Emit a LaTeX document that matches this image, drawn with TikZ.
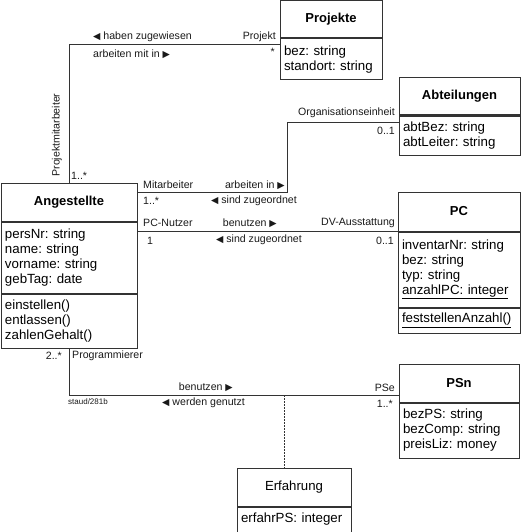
\documentclass[tikz,border=0pt]{standalone}
\usepackage{fontspec}
\setmainfont{Liberation Sans}
\newfontfamily\symfont{DejaVu Sans}
\usetikzlibrary{positioning}
\frenchspacing
\definecolor{linie}{gray}{0.2}
\newcommand{\rpfeil}{{\symfont\fontsize{9.5}{9.5}\selectfont ▶}}
\newcommand{\lpfeil}{{\symfont\fontsize{9.5}{9.5}\selectfont ◀}}
\tikzset{
  kopf/.style={draw=linie, line width=1pt, font=\bfseries\fontsize{13}{15}\selectfont, inner sep=0pt},
  attr/.style={draw=linie, line width=1pt, font=\fontsize{13.3}{15}\selectfont, align=left, inner sep=4pt, anchor=north west},
  lbl/.style={font=\fontsize{10.6}{12}\selectfont, inner sep=0pt, text=black!90},
  verb/.style={draw=linie, line width=1pt}
}
\begin{document}
\begin{tikzpicture}[x=1pt, y=-1pt]
  \useasboundingbox (0,0) rectangle (521,532);
  % Klassen
  \node[kopf, minimum width=102, minimum height=37] (projH) at (331,19.5) {Projekte};
  \node[attr, text width=94, minimum height=41] (projA) at (projH.south west) {bez: string\\standort: string};
  \node[kopf, minimum width=121, minimum height=37] (abtH) at (459.5,96.5) {Abteilungen};
  \node[attr, text width=113, minimum height=39] (abtA) at (abtH.south west) {abtBez: string\\abtLeiter: string};
  \node[kopf, minimum width=136, minimum height=38] (angH) at (69,202) {Angestellte};
  \node[attr, text width=128, minimum height=71] (angA) at (angH.south west) {persNr: string\\name: string\\vorname: string\\gebTag: date};
  \node[attr, text width=128, minimum height=54] (angO) at (angA.south west) {einstellen()\\entlassen()\\zahlenGehalt()};
  \node[kopf, minimum width=122, minimum height=39] (pcH) at (459,211.5) {PC};
  \node[attr, text width=114, minimum height=75] (pcA) at (pcH.south west) {inventarNr: string\\bez: string\\typ: string\\\underline{anzahlPC: integer}};
  \node[attr, text width=114, minimum height=25] (pcO) at (pcA.south west) {\underline{feststellenAnzahl()}};
  \node[kopf, minimum width=120, minimum height=38] (psH) at (459,383) {PSn};
  \node[attr, text width=112, minimum height=55] (psA) at (psH.south west) {bezPS: string\\bezComp: string\\preisLiz: money};
  \node[kopf, font=\fontsize{13.2}{15}\selectfont, minimum width=114, minimum height=38] (erfH) at (294,487) {Erfahrung};
  \node[attr, text width=106, minimum height=25] (erfA) at (erfH.south west) {erfahrPS: integer};
  % Assoziationen
  \draw[verb] (angH.north) |- ([yshift=-6pt]projA.north west);
  \draw[verb] ([yshift=-10pt]angH.north east) -- ++(150,0) |- ([yshift=-7pt]abtA.north west);
  \draw[verb] (pcA.north west -| angA.east) -- (pcA.north west);
  \draw[verb] (angO.south) |- ([yshift=7pt]psH.south west);
  \coordinate (erfK) at (284,395);
  \draw[verb, dash pattern=on 2pt off 1pt] (erfK) -- (erfK |- erfH.north);
  % Rollen, Namen, Multiplizitaeten
  \node[lbl, anchor=west] (hz) at (93,37) {\lpfeil\ haben zugewiesen};
  \node[lbl, anchor=west] (ami) at (93,54) {arbeiten mit in \rpfeil};
  \node[lbl, anchor=east] (rProj) at (276,37) {Projekt};
  \node[lbl, anchor=east] (mProj) at (275,52) {*};
  \node[lbl, rotate=90] (rPma) at (57,135) {Projektmitarbeiter};
  \node[lbl, anchor=west] (mPma) at (71,176) {1..*};
  \node[lbl, anchor=west] (rMa) at (143,185) {Mitarbeiter};
  \node[lbl, anchor=east] (ai) at (285,185) {arbeiten in \rpfeil};
  \node[lbl, anchor=west] (mMa) at (143,201) {1..*};
  \node[lbl, anchor=east] (sz1) at (297,201) {\lpfeil\ sind zugeordnet};
  \node[lbl, anchor=east] (rOe) at (395,113) {Organisationseinheit};
  \node[lbl, anchor=east] (mOe) at (395,131) {0..1};
  \node[lbl, anchor=west] (rPcn) at (143,223) {PC-Nutzer};
  \node[lbl, anchor=east] (bn1) at (277,223) {benutzen \rpfeil};
  \node[lbl, anchor=east] (rDv) at (395,223) {DV-Ausstattung};
  \node[lbl, anchor=west] (mPcn) at (147,241) {1};
  \node[lbl, anchor=east] (sz2) at (302,240) {\lpfeil\ sind zugeordnet};
  \node[lbl, anchor=east] (mDv) at (394,241) {0..1};
  \node[lbl, anchor=east] (mPr) at (62,356) {2..*};
  \node[lbl, anchor=west] (rPr) at (72,356) {Programmierer};
  \node[lbl, anchor=east] (bn2) at (233,387) {benutzen \rpfeil};
  \node[lbl, anchor=west, font=\fontsize{8}{9}\selectfont] (stamp) at (68,402) {staud/281b};
  \node[lbl, anchor=west] (wg) at (162,403) {\lpfeil\ werden genutzt};
  \node[lbl, anchor=east] (rPse) at (395,388) {PSe};
  \node[lbl, anchor=east] (mPse) at (393,404) {1..*};
\end{tikzpicture}
\end{document}
